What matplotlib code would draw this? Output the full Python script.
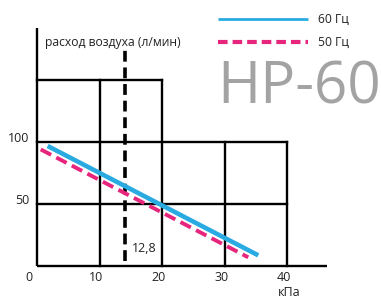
import numpy as np
import matplotlib
matplotlib.use("Agg")
import matplotlib.pyplot as plt

plt.rcParams['font.family'] = ['Open Sans', 'DejaVu Sans']

# data
pressure_60 = [1.7, 35.4]     # кПа
flow_60 = [96.8, 8.6]         # л/мин
pressure_50 = [0.6, 33.8]
flow_50 = [94.0, 7.0]

rated_pressure = 14.0         # dashed marker line (label says 12,8)
rated_label = "12,8"

x_ticks = [0, 10, 20, 30, 40]
y_ticks = [50, 100]

# grid boxes: (y level, x extent)
h_lines = [(50, 40), (100, 40), (150, 20)]
v_lines = [(10, 150), (20, 150), (30, 100), (40, 100)]

blue = '#29abe2'
pink = '#e6267c'

fig = plt.figure(figsize=(3.81, 2.98), dpi=100)
ax = fig.add_axes([0, 0, 1, 1])
ax.set_xlim(-5.92, 55.04)
ax.set_ylim(-25.8, 214.5)
ax.axis('off')

# axes
ax.plot([0, 46.4], [0, 0], color='black', lw=1.7, solid_capstyle='butt')
ax.plot([0, 0], [0, 192], color='black', lw=1.7, solid_capstyle='butt')

# grid
for yv, xe in h_lines:
    ax.plot([0, xe], [yv, yv], color='black', lw=1.7, solid_capstyle='projecting')
for xv, ye in v_lines:
    ax.plot([xv, xv], [0, ye], color='black', lw=1.7, solid_capstyle='projecting')

# rated pressure marker
ax.plot([rated_pressure, rated_pressure], [4, 174], color='black', lw=2.6,
        dashes=(3, 1.6))
ax.text(15.2, 14.5, rated_label, fontsize=9, va='center', ha='left', color='#222222')

# curves
ax.plot(pressure_60, flow_60, color=blue, lw=3.3, solid_capstyle='butt')
ax.plot(pressure_50, flow_50, color=pink, lw=2.8, dashes=(3, 1.5))

# tick labels
for xt in x_ticks:
    xpos = xt - 1.3 if xt == 0 else xt - 0.5
    ax.text(xpos, -9.5, str(xt), fontsize=9, ha='center', va='center', color='#222222')
for yt in y_ticks:
    ax.text(-1.2, yt + 2.5, str(yt), fontsize=9, ha='right', va='center', color='#222222')
ax.text(40.3, -21.0, 'кПа', fontsize=9, ha='center', va='center', color='#222222')

ax.text(1.3, 180, 'расход воздуха (л/мин)', fontsize=8.7, ha='left', va='center',
        color='#222222')

# legend drawn by hand
ax.plot([29.0, 43.3], [199, 199], color=blue, lw=2.0, solid_capstyle='butt')
ax.plot([29.0, 43.3], [180.5, 180.5], color=pink, lw=3.0, dashes=(2.3, 1.2))
ax.text(45.0, 199, '60 Гц', fontsize=8.7, ha='left', va='center', color='#222222')
ax.text(45.0, 180.5, '50 Гц', fontsize=8.7, ha='left', va='center', color='#222222')

# model name
ax.text(28.8, 143, 'HP-60', fontsize=42, ha='left', va='center', color='#a3a3a3')

fig.savefig('out.png', dpi=100)
